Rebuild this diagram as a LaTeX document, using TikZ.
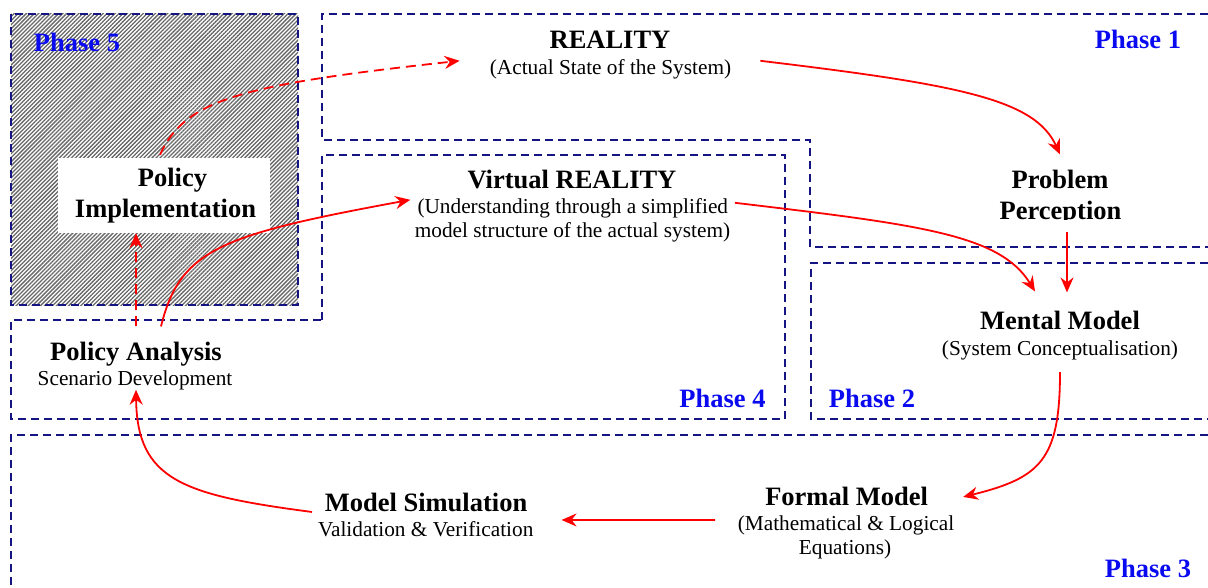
\documentclass[tikz,border=0pt]{standalone}
\usepackage{fontspec}
\setmainfont{Liberation Serif}
\usetikzlibrary{arrows.meta,patterns.meta}
\definecolor{phline}{RGB}{20,20,130}
\definecolor{phtext}{RGB}{10,10,240}
\definecolor{arr}{RGB}{255,0,0}
\tikzset{
  phasebox/.style={draw=phline, line width=2pt, dash pattern=on 8pt off 5pt},
  phlabel/.style={text=phtext, font=\fontsize{26.5}{30}\selectfont\bfseries, inner sep=0pt, anchor=base},
  ctitle/.style={font=\fontsize{26.5}{30}\selectfont\bfseries, inner sep=0pt, anchor=base},
  csub/.style={font=\fontsize{21.3}{24}\selectfont, inner sep=0pt, anchor=base},
  flow/.style={draw=arr, line width=1.8pt, -{Stealth[length=15pt,width=13pt,inset=5pt]}},
  flowdash/.style={flow, dash pattern=on 10pt off 6pt},
}
\begin{document}
\begin{tikzpicture}[x=1pt,y=-1pt]
\useasboundingbox (0,0) rectangle (1208,588);
% Phase 5 hatched area
\path[pattern={Lines[angle=45,distance=2.85pt,line width=1.3pt]}, pattern color=black!60] (11,14) rectangle (298,305);
\draw[phasebox] (11,14) rectangle (298,305);
% Phase 1
\draw[phasebox] (1208,14) -- (322,14) -- (322,140) -- (810,140) -- (810,247) -- (1208,247);
% Phase 4
\draw[phasebox] (322,320) -- (322,155) -- (785,155) -- (785,419) -- (11,419) -- (11,320) -- cycle;
% Phase 2
\draw[phasebox] (1208,263) -- (811,263) -- (811,419) -- (1208,419);
% Phase 3
\draw[phasebox] (1208,435) -- (11,435) -- (11,588);
% white box for policy implementation
\node[fill=white, inner sep=0pt, minimum width=212pt, minimum height=75pt] (impl) at (164,195.5) {};
% phase labels
\node[phlabel] (p5) at (77,52) {Phase 5};
\node[phlabel] (p1) at (1138,49) {Phase 1};
\node[phlabel] (p4) at (722.5,407) {Phase 4};
\node[phlabel] (p2) at (872,407) {Phase 2};
\node[phlabel] (p3) at (1148,577) {Phase 3};
% concept texts
\node[ctitle] (real) at (610,49) {REALITY};
\node[csub] (realsub) at (610.5,75) {(Actual State of the System)};
\node[ctitle] (vr) at (572,189) {Virtual REALITY};
\node[csub] (vrsub1) at (572.8,214) {(Understanding through a simplified};
\node[csub] (vrsub2) at (572.5,238) {model structure of the actual system)};
\node[ctitle] (prob) at (1060,189) {Problem};
\begin{scope}
  \clip (980,195) rectangle (1140,219.5);
  \node[ctitle] (perc) at (1060.5,220) {Perception};
\end{scope}
\node[ctitle] (mental) at (1060,329) {Mental Model};
\node[csub] (mentalsub) at (1060,355) {(System Conceptualisation)};
\node[ctitle] (formal) at (846.6,505) {Formal Model};
\node[csub] (formalsub1) at (846,530) {(Mathematical \& Logical};
\node[csub] (formalsub2) at (845,554) {Equations)};
\node[ctitle] (sim) at (426,511) {Model Simulation};
\node[csub] (simsub) at (425.7,536) {Validation \& Verification};
\node[ctitle] (pa) at (136,360) {Policy Analysis};
\node[csub] (pasub) at (135,385) {Scenario Development};
\node[ctitle] (pol) at (172.5,187) {Policy};
\node[ctitle] (implt) at (165.5,218) {Implementation};
% connectors
\draw[flow] ([shift={(29,-9)}]realsub.east) .. controls +(200,24) and +(-25,-55) .. ([shift={(0,-16)}]prob.north);
\draw[flow] ([shift={(6.5,6)}]perc.south) -- ([shift={(7,-18)}]mental.north);
\draw[flow] ([shift={(6.7,-6)}]vrsub1.east) .. controls +(185,22) and +(-35,-57) .. ([shift={(-25,-19)}]mental.north);
\draw[flow] ([shift={(0,12.4)}]mentalsub.south) .. controls +(0,88) and +(77,-19) .. ([shift={(35,1)}]formal.east);
\draw[flow] ([shift={(-22.5,-4.9)}]formalsub1.west) -- ([shift={(28,-8.7)}]simsub.east);
\draw[flow] ([shift={(-12.6,10)}]sim.west) .. controls +(-130,-17) and +(1,90) .. ([shift={(1,0)}]pasub.south);
\draw[flow] ([shift={(25,-15)}]pa.north) .. controls +(19,-77) and +(-190,35) .. ([shift={(-7,-9)}]vrsub1.west);
\draw[flowdash] ([shift={(0,-15)}]pa.north) -- ([shift={(-28,0)}]impl.south);
\draw[flowdash] ([shift={(-4,-3)}]impl.north) .. controls +(25,-55) and +(-220,24) .. ([shift={(-30,-9)}]realsub.west);
\end{tikzpicture}
\end{document}
